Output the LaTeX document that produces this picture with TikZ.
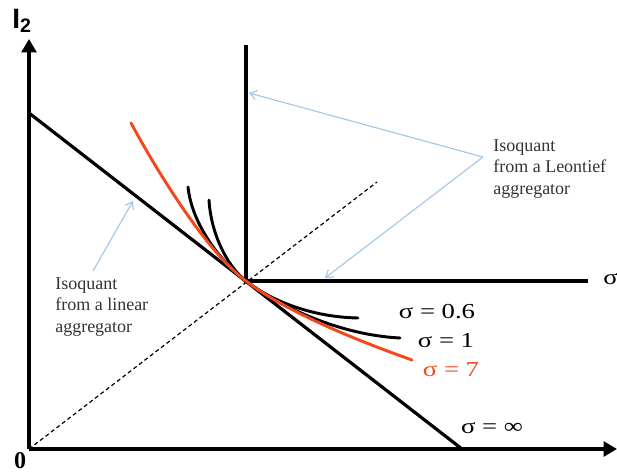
\documentclass[tikz,border=0pt]{standalone}
\usepackage{fontspec}
\setmainfont{Liberation Serif}
\setsansfont{Liberation Sans}
\newfontfamily\sigfont[FakeStretch=1.25]{Liberation Serif}
\usetikzlibrary{arrows.meta}
\definecolor{hot}{HTML}{F4471C}
\definecolor{pale}{HTML}{A8C8E8}
\definecolor{ink}{HTML}{333333}
\tikzset{
  axis/.style={line width=3.4pt, -{Triangle[length=10pt,width=11pt]}},
  iso/.style={line width=2.4pt},
  ces/.style={line width=2.2pt, line cap=round},
  ray/.style={line width=0.9pt, dash pattern=on 3pt off 2.2pt},
  pointer/.style={pale, line width=0.9pt, -{Straight Barb[length=5pt,width=7pt]}},
  note/.style={align=left, inner sep=0pt, text=ink, font=\fontsize{13.5}{16.3}\selectfont},
  siglbl/.style={inner sep=0pt, font=\sigfont\fontsize{16}{18}\selectfont},
}

\begin{document}
\begin{tikzpicture}[x=0.75pt, y=-0.75pt]
  \useasboundingbox (0,0) rectangle (617,473);
  % axes
  \coordinate (O) at (29,449);
  \coordinate (ytip) at (29,39);
  \coordinate (xtip) at (617,449);
  \draw[axis] (O) -- (ytip);
  \draw[axis] (O) -- (xtip);
  \node[font=\sffamily\bfseries\fontsize{21}{21}\selectfont, inner sep=0pt] (ylab) at (22,21) {I\textsubscript{2}};
  \node[font=\bfseries\fontsize{18}{18}\selectfont, inner sep=0pt] (zero) at (20,461) {0};

  % linear and Leontief isoquants
  \coordinate (K) at (246,281);
  \coordinate (linA) at (29,113);
  \coordinate (linB) at (462,449);
  \draw[iso] (linA) -- (linB);
  \coordinate (ltop) at (246,45);
  \coordinate (lend) at (588,281);
  \draw[iso] (ltop) |- (lend);
  \node[siglbl, anchor=west] (xlab) at (603,279) {σ};

  % ray through the kink
  \coordinate (rayend) at (377,182);
  \draw[ray] (O) -- (rayend);

  % CES isoquants
  \coordinate (s06a) at (209,200);
  \coordinate (s06b) at (358,318);
  \coordinate (s1a) at (188,187);
  \coordinate (s1b) at (400,338);
  \coordinate (s7a) at (131,123);
  \coordinate (s7b) at (412,360);
  \draw[ces] (s06a) .. controls (211,235) and (228,267) .. (K)
    .. controls (270,300) and (310,317) .. (s06b);
  \draw[ces] (s1a) .. controls (192,225) and (221,262) .. (K)
    .. controls (280,307) and (340,335) .. (s1b);
  \draw[ces, hot] (s7a) .. controls (152,162) and (204,250) .. (K)
    .. controls (290,315) and (370,345) .. (s7b);

  \node[siglbl] (l06) at (437,312) {σ = 0.6};
  \node[siglbl] (l1) at (446,341) {σ = 1};
  \node[siglbl, text=hot] (l7) at (451,370) {σ = 7};
  \node[siglbl] (linf) at (492,428) {σ = ∞};

  % annotations
  \node[note, anchor=north west] (leon) at (493,139) {Isoquant\\from a Leontief\\aggregator};
  \node[note, anchor=north west] (lin) at (55,277) {Isoquant\\from a linear\\aggregator};
  \coordinate (fork) at (483,157);
  \coordinate (vtip) at (249,93);
  \coordinate (htip) at (325,278);
  \draw[pointer] (fork) -- (vtip);
  \draw[pointer] (fork) -- (htip);
  \coordinate (linfoot) at (93,271);
  \coordinate (lintip) at (133,201);
  \draw[pointer] (linfoot) -- (lintip);
\end{tikzpicture}
\end{document}
